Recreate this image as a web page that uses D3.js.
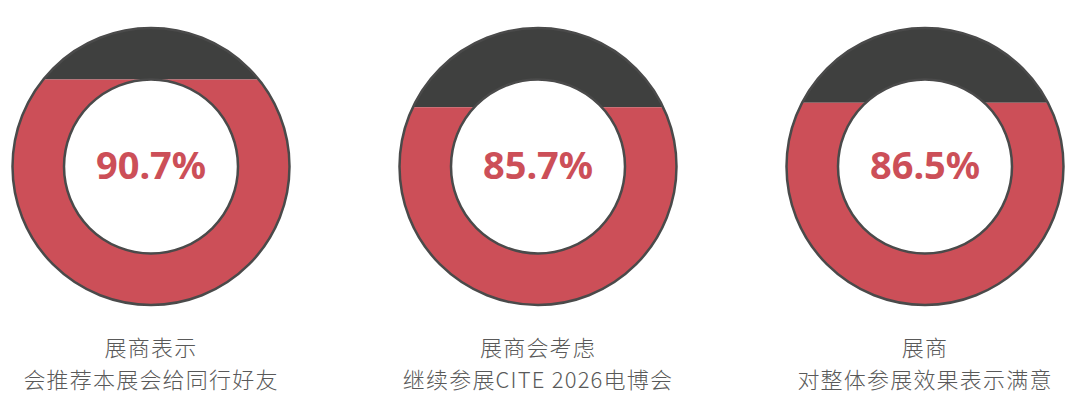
<!DOCTYPE html>
<html>
<head>
<meta charset="utf-8">
<script src="https://cdn.jsdelivr.net/npm/d3@7"></script>
<style>
  html, body { margin: 0; padding: 0; background: #fff; }
  svg { display: block; }
</style>
</head>
<body>
<div id="chart"></div>
<script>
// survey results, one ring per question
var values = [90.7, 85.7, 86.5];
var titleLines = ["展商表示", "展商会考虑", "展商"];
var subLines = ["会推荐本展会给同行好友", "继续参展CITE 2026电博会", "对整体参展效果表示满意"];

var width = 1080, height = 410;
var cy = 166.5, rOuter = 138.5, rInner = 87;

var svg = d3.select('#chart').append('svg')
    .attr('width', width)
    .attr('height', height);

var x = d3.scalePoint()
    .domain(d3.range(values.length))
    .range([151, 925]);

// fill level, relative to the ring centre: 50% at the bottom, 100% at the top
var level = d3.scaleLinear()
    .domain([50, 100])
    .range([rOuter, -rOuter]);

var ring = d3.arc()
    .innerRadius(rInner)
    .outerRadius(rOuter)
    .startAngle(0)
    .endAngle(2 * Math.PI);

var defs = svg.append('defs');
var pad = 5;

defs.selectAll('.clip-fill')
    .data(values)
    .enter().append('clipPath')
    .attr('id', function (d, i) { return 'fill-' + i; })
    .append('rect')
    .attr('x', -rOuter - pad)
    .attr('width', rOuter * 2 + pad * 2)
    .attr('y', function (d) { return level(d); })
    .attr('height', function (d) { return rOuter + pad - level(d); });

defs.selectAll('.clip-rest')
    .data(values)
    .enter().append('clipPath')
    .attr('id', function (d, i) { return 'rest-' + i; })
    .append('rect')
    .attr('x', -rOuter - pad)
    .attr('width', rOuter * 2 + pad * 2)
    .attr('y', -rOuter - pad)
    .attr('height', function (d) { return level(d) + rOuter + pad; });

var g = svg.selectAll('.gauge')
    .data(values)
    .enter().append('g')
    .attr('class', 'gauge')
    .attr('transform', function (d, i) { return 'translate(' + x(i) + ',' + cy + ')'; });

g.append('path')
    .attr('d', ring())
    .attr('fill', '#3f403f')
    .attr('clip-path', function (d, i) { return 'url(#rest-' + i + ')'; });

g.append('path')
    .attr('d', ring())
    .attr('fill', '#cc4f58')
    .attr('clip-path', function (d, i) { return 'url(#fill-' + i + ')'; });

[rOuter, rInner].forEach(function (r) {
    g.append('circle')
        .attr('r', r)
        .attr('fill', 'none')
        .attr('stroke', '#4a4a4a')
        .attr('stroke-width', 2.5);
});

g.append('text')
    .attr('y', 12)
    .attr('text-anchor', 'middle')
    .style('font-family', '"Noto Sans", "Open Sans", sans-serif')
    .style('font-weight', 'bold')
    .style('font-size', '38px')
    .style('fill', '#cc4f58')
    .text(function (d) { return d.toFixed(1) + '%'; });

// two-line caption under each ring
var caption = g.append('text')
    .attr('text-anchor', 'middle')
    .style('font-family', '"Noto Sans CJK SC", "Noto Sans", sans-serif')
    .style('font-weight', 300)
    .style('font-size', '22px')
    .style('letter-spacing', '1.2px')
    .style('fill', '#595959');

caption.append('tspan')
    .attr('x', 0)
    .attr('y', 355.5 - cy)
    .text(function (d, i) { return titleLines[i]; });

caption.append('tspan')
    .attr('x', 0)
    .attr('y', 387.5 - cy)
    .text(function (d, i) { return subLines[i]; });
</script>
</body>
</html>
